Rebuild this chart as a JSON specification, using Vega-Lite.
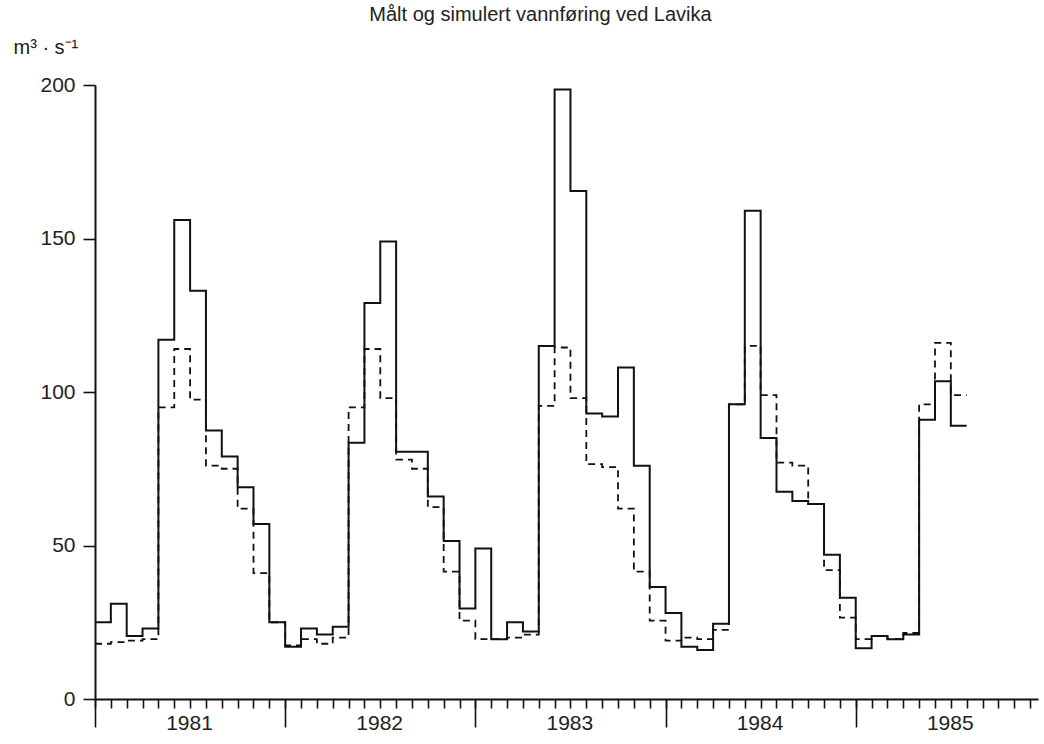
{
  "$schema": "https://vega.github.io/schema/vega-lite/v6.json",
  "width": 943,
  "height": 614,
  "autosize": "none",
  "padding": {"left": 95, "top": 85, "right": 6, "bottom": 45},
  "background": "white",
  "config": {
    "view": {"stroke": null},
    "font": "Liberation Sans",
    "axis": {"grid": false, "labelFont": "Liberation Sans", "titleFont": "Liberation Sans", "labelColor": "#222", "titleColor": "#222"}
  },
  "title": {
    "text": "Målt og simulert vannføring ved Lavika",
    "fontSize": 20,
    "fontWeight": "normal",
    "font": "Liberation Sans",
    "color": "#222",
    "anchor": "middle",
    "dx": -26,
    "offset": 12
  },
  "datasets": {
    "flow": [
      {"m": 0, "serie": "målt", "v": 25}, {"m": 1, "serie": "målt", "v": 31}, {"m": 2, "serie": "målt", "v": 20.5}, {"m": 3, "serie": "målt", "v": 23},
      {"m": 4, "serie": "målt", "v": 117}, {"m": 5, "serie": "målt", "v": 156}, {"m": 6, "serie": "målt", "v": 133}, {"m": 7, "serie": "målt", "v": 87.5},
      {"m": 8, "serie": "målt", "v": 79}, {"m": 9, "serie": "målt", "v": 69}, {"m": 10, "serie": "målt", "v": 57}, {"m": 11, "serie": "målt", "v": 25},
      {"m": 12, "serie": "målt", "v": 17}, {"m": 13, "serie": "målt", "v": 23}, {"m": 14, "serie": "målt", "v": 21}, {"m": 15, "serie": "målt", "v": 23.5},
      {"m": 16, "serie": "målt", "v": 83.5}, {"m": 17, "serie": "målt", "v": 129}, {"m": 18, "serie": "målt", "v": 149}, {"m": 19, "serie": "målt", "v": 80.5},
      {"m": 20, "serie": "målt", "v": 80.5}, {"m": 21, "serie": "målt", "v": 66}, {"m": 22, "serie": "målt", "v": 51.5}, {"m": 23, "serie": "målt", "v": 29.5},
      {"m": 24, "serie": "målt", "v": 49}, {"m": 25, "serie": "målt", "v": 19.5}, {"m": 26, "serie": "målt", "v": 25}, {"m": 27, "serie": "målt", "v": 22},
      {"m": 28, "serie": "målt", "v": 115}, {"m": 29, "serie": "målt", "v": 198.5}, {"m": 30, "serie": "målt", "v": 165.5}, {"m": 31, "serie": "målt", "v": 93},
      {"m": 32, "serie": "målt", "v": 92}, {"m": 33, "serie": "målt", "v": 108}, {"m": 34, "serie": "målt", "v": 76}, {"m": 35, "serie": "målt", "v": 36.5},
      {"m": 36, "serie": "målt", "v": 28}, {"m": 37, "serie": "målt", "v": 17}, {"m": 38, "serie": "målt", "v": 16}, {"m": 39, "serie": "målt", "v": 24.5},
      {"m": 40, "serie": "målt", "v": 96}, {"m": 41, "serie": "målt", "v": 159}, {"m": 42, "serie": "målt", "v": 85}, {"m": 43, "serie": "målt", "v": 67.5},
      {"m": 44, "serie": "målt", "v": 64.5}, {"m": 45, "serie": "målt", "v": 63.5}, {"m": 46, "serie": "målt", "v": 47}, {"m": 47, "serie": "målt", "v": 33},
      {"m": 48, "serie": "målt", "v": 16.5}, {"m": 49, "serie": "målt", "v": 20.5}, {"m": 50, "serie": "målt", "v": 19.5}, {"m": 51, "serie": "målt", "v": 21},
      {"m": 52, "serie": "målt", "v": 91}, {"m": 53, "serie": "målt", "v": 103.5}, {"m": 54, "serie": "målt", "v": 89}, {"m": 55, "serie": "målt", "v": 89},
      {"m": 0, "serie": "simulert", "v": 18}, {"m": 1, "serie": "simulert", "v": 18.5}, {"m": 2, "serie": "simulert", "v": 19}, {"m": 3, "serie": "simulert", "v": 19.5},
      {"m": 4, "serie": "simulert", "v": 95}, {"m": 5, "serie": "simulert", "v": 114}, {"m": 6, "serie": "simulert", "v": 97.5}, {"m": 7, "serie": "simulert", "v": 76},
      {"m": 8, "serie": "simulert", "v": 75}, {"m": 9, "serie": "simulert", "v": 62}, {"m": 10, "serie": "simulert", "v": 41}, {"m": 11, "serie": "simulert", "v": 25},
      {"m": 12, "serie": "simulert", "v": 17.5}, {"m": 13, "serie": "simulert", "v": 19.5}, {"m": 14, "serie": "simulert", "v": 18}, {"m": 15, "serie": "simulert", "v": 20},
      {"m": 16, "serie": "simulert", "v": 95}, {"m": 17, "serie": "simulert", "v": 114}, {"m": 18, "serie": "simulert", "v": 98}, {"m": 19, "serie": "simulert", "v": 78},
      {"m": 20, "serie": "simulert", "v": 75}, {"m": 21, "serie": "simulert", "v": 62.5}, {"m": 22, "serie": "simulert", "v": 41.5}, {"m": 23, "serie": "simulert", "v": 25.5},
      {"m": 24, "serie": "simulert", "v": 19.5}, {"m": 25, "serie": "simulert", "v": 19.5}, {"m": 26, "serie": "simulert", "v": 20}, {"m": 27, "serie": "simulert", "v": 21},
      {"m": 28, "serie": "simulert", "v": 95.5}, {"m": 29, "serie": "simulert", "v": 114.5}, {"m": 30, "serie": "simulert", "v": 98}, {"m": 31, "serie": "simulert", "v": 76.5},
      {"m": 32, "serie": "simulert", "v": 75.5}, {"m": 33, "serie": "simulert", "v": 62}, {"m": 34, "serie": "simulert", "v": 41.5}, {"m": 35, "serie": "simulert", "v": 25.5},
      {"m": 36, "serie": "simulert", "v": 19}, {"m": 37, "serie": "simulert", "v": 20}, {"m": 38, "serie": "simulert", "v": 19.5}, {"m": 39, "serie": "simulert", "v": 22.5},
      {"m": 40, "serie": "simulert", "v": 96}, {"m": 41, "serie": "simulert", "v": 115}, {"m": 42, "serie": "simulert", "v": 99}, {"m": 43, "serie": "simulert", "v": 77},
      {"m": 44, "serie": "simulert", "v": 76}, {"m": 45, "serie": "simulert", "v": 63.5}, {"m": 46, "serie": "simulert", "v": 42}, {"m": 47, "serie": "simulert", "v": 26.5},
      {"m": 48, "serie": "simulert", "v": 19.5}, {"m": 49, "serie": "simulert", "v": 20.5}, {"m": 50, "serie": "simulert", "v": 19.5}, {"m": 51, "serie": "simulert", "v": 21.5},
      {"m": 52, "serie": "simulert", "v": 96}, {"m": 53, "serie": "simulert", "v": 116}, {"m": 54, "serie": "simulert", "v": 99}, {"m": 55, "serie": "simulert", "v": 99}
    ]
  },
  "data": {"name": "flow"},
  "resolve": {"axis": {"x": "independent", "y": "independent"}},
  "layer": [
    {
      "transform": [{"filter": "datum.serie === 'simulert'"}],
      "mark": {"type": "line", "interpolate": "step-after", "color": "#111", "strokeWidth": 1.8, "strokeDash": [7, 5]},
      "encoding": {
        "x": {"field": "m", "type": "quantitative", "scale": {"domain": [0, 59.5], "nice": false, "zero": false},
          "axis": {"orient": "bottom", "values": [0, 12, 24, 36, 48], "tickSize": 28, "tickWidth": 1.6, "tickColor": "#111", "domain": false,
            "labelExpr": "'' + (1981 + datum.value / 12)", "labelOffset": 94, "labelPadding": -15, "labelFontSize": 21,
            "labelFlush": false, "labelOverlap": false, "labelBound": false, "title": null}},
        "y": {"field": "v", "type": "quantitative", "scale": {"domain": [0, 200], "nice": false}, "axis": null}
      }
    },
    {
      "transform": [{"filter": "datum.serie === 'målt'"}],
      "mark": {"type": "line", "interpolate": "step-after", "color": "#111", "strokeWidth": 2},
      "encoding": {
        "x": {"field": "m", "type": "quantitative",
          "axis": {"orient": "bottom", "values": [0,1,2,3,4,5,6,7,8,9,10,11,12,13,14,15,16,17,18,19,20,21,22,23,24,25,26,27,28,29,30,31,32,33,34,35,36,37,38,39,40,41,42,43,44,45,46,47,48,49,50,51,52,53,54,55,56,57,58,59],
            "tickSize": 9, "tickWidth": 1.6, "tickColor": "#111", "domain": true, "domainColor": "#111", "domainWidth": 2,
            "labels": false, "title": null}},
        "y": {"field": "v", "type": "quantitative",
          "axis": {"orient": "left", "values": [0, 50, 100, 150, 200], "tickSize": 12, "tickWidth": 1.6, "tickColor": "#111", "domainColor": "#111", "domainWidth": 2,
            "labelFontSize": 21, "labelPadding": 8,
            "title": "m³  ·  s⁻¹", "titleAngle": 0, "titleAlign": "left", "titleBaseline": "alphabetic", "titleX": -82, "titleY": -32,
            "titleFontSize": 20, "titleFontWeight": "normal"}}
      }
    }
  ]
}
